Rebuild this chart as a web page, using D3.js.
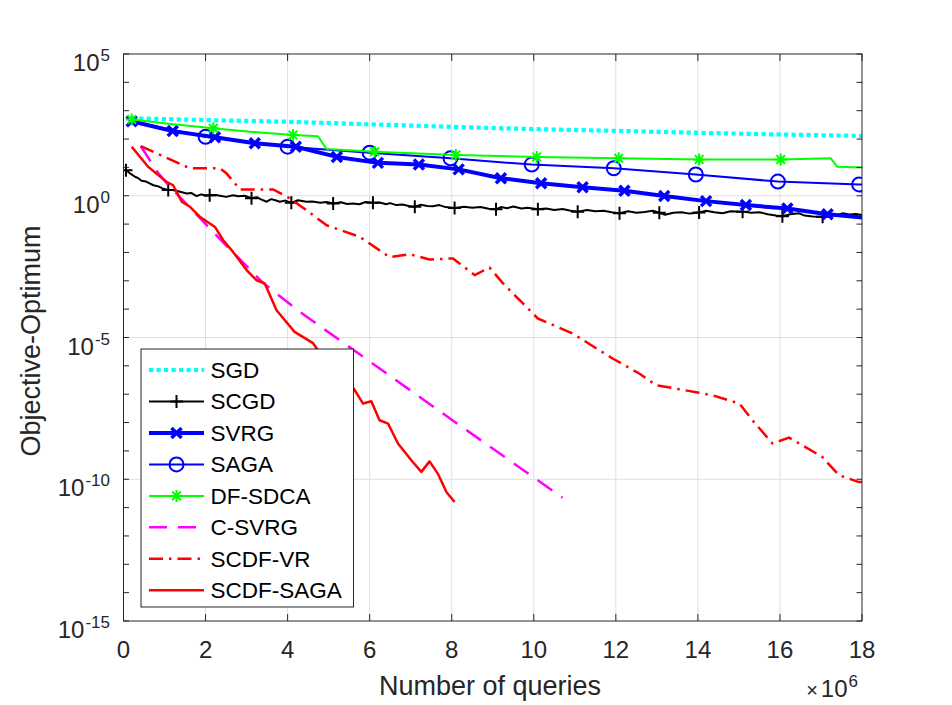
<!DOCTYPE html>
<html>
<head>
<meta charset="utf-8">
<script src="https://cdn.jsdelivr.net/npm/d3@7"></script>
<style>
  html, body { margin: 0; padding: 0; background: #fff; }
  svg { display: block; font-family: "Liberation Sans", Arial, Helvetica, sans-serif; }
</style>
</head>
<body>
<svg id="chart" width="952" height="705"></svg>
<script>
// ---------- DATA (x in units of 1e6 queries, y = log10(Objective - Optimum)) ----------
const seriesNames = ["SGD", "SCGD", "SVRG", "SAGA", "DF-SDCA", "C-SVRG", "SCDF-VR", "SCDF-SAGA"];

const sgd = [[0.2,2.73],[2,2.67],[4,2.61],[6,2.52],[8,2.43],[10,2.35],[12,2.29],[14,2.22],[16,2.16],[18,2.11]];

const scgd = [[0.04,0.92],[0.15,0.80],[0.28,0.67],[0.36,0.62],[0.44,0.53],[0.55,0.5],[0.73,0.37],[0.85,0.33],[0.95,0.26],
  [1.09,0.2],[1.2,0.2],[1.38,0.14],[1.54,0.08],[1.65,0.1],[1.78,-0.01],[1.9,0.05],[2.0,0.0],[2.11,0.02],[2.25,0.03],
  [2.35,0.0],[2.5,-0.04],[2.67,0.02],[2.8,-0.02],[2.95,0.0],[3.12,-0.09],[3.25,-0.05],[3.35,-0.13],[3.49,-0.21],
  [3.6,-0.12],[3.7,-0.16],[3.81,-0.21],[3.95,-0.17],[4.09,-0.25],[4.25,-0.16],[4.46,-0.21],[4.6,-0.2],[4.8,-0.25],
  [4.95,-0.22],[5.11,-0.27],[5.3,-0.23],[5.45,-0.29],[5.59,-0.27],[5.75,-0.3],[5.9,-0.22],[6.08,-0.25],[6.25,-0.24],
  [6.4,-0.3],[6.5,-0.26],[6.65,-0.33],[6.8,-0.31],[6.95,-0.36],[7.1,-0.39],[7.25,-0.32],[7.4,-0.36],[7.54,-0.37],
  [7.7,-0.33],[7.85,-0.4],[8.07,-0.43],[8.3,-0.39],[8.5,-0.42],[8.7,-0.4],[8.9,-0.46],[9.08,-0.48],[9.2,-0.4],
  [9.35,-0.44],[9.5,-0.38],[9.7,-0.45],[9.85,-0.42],[10.1,-0.48],[10.3,-0.45],[10.5,-0.5],[10.7,-0.47],[10.9,-0.53],
  [11.07,-0.56],[11.3,-0.5],[11.5,-0.55],[11.7,-0.53],[11.9,-0.58],[12.09,-0.62],[12.3,-0.55],[12.5,-0.6],[12.7,-0.57],
  [12.9,-0.53],[13.06,-0.6],[13.2,-0.67],[13.4,-0.6],[13.6,-0.58],[13.8,-0.63],[14.03,-0.59],[14.2,-0.53],[14.4,-0.58],
  [14.6,-0.62],[14.8,-0.55],[15.09,-0.56],[15.3,-0.6],[15.5,-0.58],[15.7,-0.65],[15.9,-0.7],[16.06,-0.72],[16.25,-0.65],
  [16.47,-0.62],[16.6,-0.7],[16.8,-0.73],[17.04,-0.74],[17.2,-0.67],[17.35,-0.7],[17.52,-0.62],[17.7,-0.66],[17.85,-0.64],[18,-0.68]];
const scgdMarkerX = [0.06,1.09,2.1,3.12,4.09,5.11,6.08,7.1,8.07,9.08,10.1,11.07,12.09,13.06,14.03,15.09,16.06,17.04];

const svrg = [[0.2,2.63],[1.2,2.28],[2.23,2.06],[3.2,1.85],[4.2,1.73],[5.2,1.37],[6.2,1.16],[7.2,1.1],[8.17,0.93],[9.2,0.62],
  [10.18,0.44],[11.19,0.3],[12.21,0.18],[13.18,-0.01],[14.2,-0.19],[15.17,-0.33],[16.18,-0.45],[17.16,-0.65],[18,-0.77]];
const svrgMarkerX = [0.2,1.2,2.23,3.2,4.2,5.2,6.2,7.2,8.17,9.2,10.18,11.19,12.21,13.18,14.2,15.17,16.18,17.16];

const saga = [[0.2,2.63],[2.0,2.08],[4.0,1.73],[6.0,1.52],[7.97,1.32],[9.95,1.1],[11.95,0.97],[13.95,0.75],[15.95,0.5],[17.93,0.4],[18,0.4]];
const sagaMarkerX = [2.0,4.0,6.0,7.97,9.95,11.95,13.95,15.95,17.93];

const dfsdca = [[0.2,2.69],[1.2,2.52],[2.19,2.38],[3.08,2.26],[4.13,2.14],[4.74,2.1],[4.95,1.65],[6.12,1.55],[8.1,1.44],
  [10.07,1.37],[12.07,1.32],[14.03,1.28],[16.02,1.28],[17.24,1.32],[17.4,1.02],[18,1.0]];
const dfsdcaMarkerX = [0.2,2.19,4.13,6.12,8.1,10.07,12.07,14.03,16.02];

const csvrg = [[0.42,1.75],[0.85,0.79],[1.13,0.32],[2.4,-1.6],[3.4,-3.07],[4.3,-4.1],[5.5,-5.33],[8,-7.9],[10.7,-10.65]];

const scdfvr = [[0.42,1.75],[1.62,0.97],[2.35,0.97],[2.51,0.79],[2.84,0.22],[3.65,0.22],[4.05,-0.09],[4.46,-0.51],[4.95,-1.04],
  [5.76,-1.45],[6.49,-2.17],[6.97,-2.06],[7.46,-2.25],[8.03,-2.21],[8.56,-2.8],[8.92,-2.53],[9.25,-3.09],[10.1,-4.33],
  [10.95,-4.86],[11.92,-5.74],[12.57,-6.27],[12.98,-6.68],[14.03,-6.95],[14.36,-7.04],[15.01,-7.33],[15.33,-7.92],
  [15.82,-8.74],[16.22,-8.53],[17.03,-9.21],[17.44,-9.86],[17.93,-10.1],[18,-10.1]];

const scdfsaga = [[0.2,1.73],[0.6,1.02],[1.05,0.49],[1.21,0.37],[1.42,-0.21],[1.62,-0.39],[1.86,-0.74],[2.23,-1.1],[2.43,-1.57],
  [2.67,-1.98],[3.0,-2.62],[3.24,-2.98],[3.44,-3.09],[3.73,-4.04],[4.17,-4.8],[4.62,-5.2],[4.74,-5.45],[5.2,-6.1],[5.61,-6.8],
  [5.84,-7.33],[6.04,-7.25],[6.24,-7.92],[6.45,-8.04],[6.69,-8.74],[7.05,-9.39],[7.26,-9.74],[7.46,-9.37],[7.66,-9.8],
  [7.87,-10.45],[8.07,-10.8]];

const xTicks = [0, 2, 4, 6, 8, 10, 12, 14, 16, 18];
const yTickExps = [5, 0, -5, -10, -15];
const yMinorExps = d3.range(-15, 6);
const xLabel = "Number of queries";
const yLabel = "Objective-Optimum";
const xScaleNote = "6"; // ×10^6

// ---------- LAYOUT ----------
const M = { left: 123.5, right: 862, top: 54, bottom: 621 };
const svg = d3.select("#chart");
const x = d3.scaleLinear().domain([0, 18]).range([M.left, M.right]);
const y = d3.scaleLog().domain([1e-15, 1e5]).range([M.bottom, M.top]);
const textCol = "#262626";

// grid
const grid = svg.append("g");
grid.selectAll("line.gx").data(xTicks.slice(1, -1)).join("line")
  .attr("x1", d => x(d)).attr("x2", d => x(d)).attr("y1", M.top).attr("y2", M.bottom)
  .attr("stroke", "#dfdfdf").attr("stroke-width", 1);
grid.selectAll("line.gy").data(yTickExps.slice(1, -1)).join("line")
  .attr("y1", d => y(Math.pow(10, d))).attr("y2", d => y(Math.pow(10, d))).attr("x1", M.left).attr("x2", M.right)
  .attr("stroke", "#dfdfdf").attr("stroke-width", 1);

// clip
svg.append("clipPath").attr("id", "clip").append("rect")
  .attr("x", M.left).attr("y", M.top).attr("width", M.right - M.left).attr("height", M.bottom - M.top);
const plot = svg.append("g").attr("clip-path", "url(#clip)");

const line = d3.line().x(d => x(d[0])).y(d => y(Math.pow(10, d[1])));
function interp(data, xv) {
  for (let i = 0; i < data.length - 1; i++) {
    if (xv >= data[i][0] && xv <= data[i + 1][0]) {
      const t = (xv - data[i][0]) / (data[i + 1][0] - data[i][0]);
      return [xv, data[i][1] + t * (data[i + 1][1] - data[i][1])];
    }
  }
  return xv < data[0][0] ? data[0] : data[data.length - 1];
}

const markerPaths = {
  plus: "M-6.5,0H6.5M0,-6.5V6.5",
  cross: "M-5,-5L5,5M-5,5L5,-5",
  star: "M-6,0H6M0,-6V6M-4.3,-4.3L4.3,4.3M-4.3,4.3L4.3,-4.3"
};

const styles = [
  { name: "SGD", data: sgd, color: "#00ffff", width: 4.2, dash: "4.2,3.3", marker: null },
  { name: "SCGD", data: scgd, color: "#000000", width: 2, dash: null, marker: "plus", mw: 2, mx: scgdMarkerX },
  { name: "SVRG", data: svrg, color: "#0000ff", width: 4, dash: null, marker: "cross", mw: 3.5, mx: svrgMarkerX },
  { name: "SAGA", data: saga, color: "#0000ff", width: 2, dash: null, marker: "circle", mw: 2, mx: sagaMarkerX },
  { name: "DF-SDCA", data: dfsdca, color: "#00ff00", width: 2, dash: null, marker: "star", mw: 2, mx: dfsdcaMarkerX },
  { name: "C-SVRG", data: csvrg, color: "#ff00ff", width: 2.5, dash: "18,11", marker: null },
  { name: "SCDF-VR", data: scdfvr, color: "#ff0000", width: 2.5, dash: "14,6,2.5,6", marker: null },
  { name: "SCDF-SAGA", data: scdfsaga, color: "#ff0000", width: 2.5, dash: null, marker: null }
];

function drawMarker(g, type, cx, cy, color, w) {
  if (type === "circle") {
    g.append("circle").attr("cx", cx).attr("cy", cy).attr("r", 7)
      .attr("fill", "none").attr("stroke", color).attr("stroke-width", w);
  } else {
    g.append("path").attr("d", markerPaths[type]).attr("transform", `translate(${cx},${cy})`)
      .attr("fill", "none").attr("stroke", color).attr("stroke-width", w);
  }
}

styles.forEach(s => {
  const g = plot.append("g");
  g.append("path").datum(s.data).attr("d", line)
    .attr("fill", "none").attr("stroke", s.color).attr("stroke-width", s.width)
    .attr("stroke-linejoin", "round")
    .attr("stroke-dasharray", s.dash);
  if (s.marker) {
    s.mx.forEach(mx => {
      const p = interp(s.data, mx);
      drawMarker(g, s.marker, x(p[0]), y(Math.pow(10, p[1])), s.color, s.mw);
    });
  }
});

// axes box & ticks
const ax = svg.append("g").attr("stroke", textCol).attr("stroke-width", 1).attr("fill", "none");
ax.append("rect").attr("x", M.left).attr("y", M.top).attr("width", M.right - M.left).attr("height", M.bottom - M.top);
const tl = 7;
xTicks.forEach(t => {
  ax.append("line").attr("x1", x(t)).attr("x2", x(t)).attr("y1", M.bottom).attr("y2", M.bottom - tl);
  ax.append("line").attr("x1", x(t)).attr("x2", x(t)).attr("y1", M.top).attr("y2", M.top + tl);
});
yMinorExps.forEach(e => {
  const yy = y(Math.pow(10, e));
  ax.append("line").attr("x1", M.left).attr("x2", M.left + 5.5).attr("y1", yy).attr("y2", yy);
  ax.append("line").attr("x1", M.right).attr("x2", M.right - 5.5).attr("y1", yy).attr("y2", yy);
});

// tick labels
const tg = svg.append("g").attr("fill", textCol);
xTicks.forEach(t => {
  tg.append("text").attr("x", x(t)).attr("y", M.bottom + 37).attr("text-anchor", "middle")
    .attr("font-size", 24).text(t);
});
yTickExps.forEach(e => {
  const yy = y(Math.pow(10, e));
  const tx = tg.append("text").attr("x", M.left - 13.5).attr("y", yy + 17).attr("text-anchor", "end").attr("font-size", 24);
  tx.append("tspan").text("10");
  tx.append("tspan").attr("dy", -10).attr("dx", 1).attr("font-size", 17).text(e < 0 ? "-" + Math.abs(e) : String(e));
});
// ×10^6
const xn = tg.append("text").attr("x", 858).attr("y", 696.5).attr("text-anchor", "end").attr("font-size", 24);
xn.append("tspan").attr("font-size", 20).text("\u00d7");
xn.append("tspan").attr("dx", 3).text("10");
xn.append("tspan").attr("dy", -10).attr("dx", 1).attr("font-size", 17).text(xScaleNote);

// axis labels
tg.append("text").attr("x", 490).attr("y", 695).attr("text-anchor", "middle").attr("font-size", 27).text(xLabel);
tg.append("text").attr("transform", "translate(40,341) rotate(-90)").attr("text-anchor", "middle")
  .attr("font-size", 27).text(yLabel);

// legend
const lg = svg.append("g");
lg.append("rect").attr("x", 141).attr("y", 349).attr("width", 212.5).attr("height", 258)
  .attr("fill", "#fff").attr("stroke", textCol).attr("stroke-width", 1);
styles.forEach((s, i) => {
  const yy = 370 + i * 31.47;
  lg.append("line").attr("x1", 149).attr("x2", 204).attr("y1", yy).attr("y2", yy)
    .attr("stroke", s.color).attr("stroke-width", s.width).attr("stroke-dasharray", s.dash);
  if (s.marker) drawMarker(lg, s.marker, 176.5, yy, s.color, s.mw);
  lg.append("text").attr("x", 210.5).attr("y", yy + 8).attr("font-size", 22.5).attr("fill", "#000").text(s.name);
});
</script>
</body>
</html>
